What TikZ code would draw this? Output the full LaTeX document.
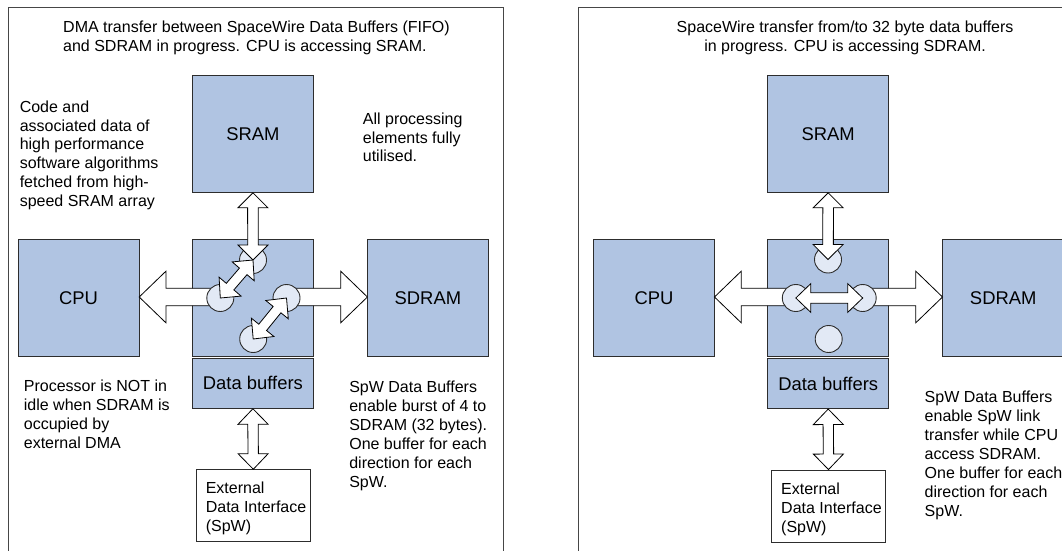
\documentclass[tikz,border=0pt]{standalone}
\usepackage{fontspec}
\setmainfont{Liberation Sans}
\usetikzlibrary{calc}

\definecolor{boxfill}{RGB}{176,196,226}
\definecolor{knobfill}{RGB}{226,233,245}
\definecolor{edgecol}{RGB}{45,45,45}
\definecolor{framecol}{RGB}{70,70,70}

\tikzset{
  unit/.style={draw=edgecol, fill=boxfill, line width=0.9pt, inner sep=0pt,
    minimum width=121pt, minimum height=116.7pt,
    font=\fontsize{18.4}{21}\selectfont},
  bufbox/.style={unit, minimum height=50pt},
  extbox/.style={draw=edgecol, fill=white, line width=0.9pt, inner sep=0pt,
    minimum width=114pt, minimum height=72pt},
  knob/.style={circle, draw=edgecol, fill=knobfill, line width=0.9pt,
    inner sep=0pt, minimum size=27pt},
  arrowbody/.style={draw=black, fill=white, line width=0.8pt, line join=miter},
  note/.style={inner sep=0pt, align=left, anchor=north west,
    font=\fontsize{16}{18.9}\selectfont},
  headline/.style={note, align=center, anchor=north},
  panelframe/.style={draw=framecol, line width=1.1pt}
}

% single-headed block arrow from #1 to the tip #2
% #3 half shaft width, #4 half head width, #5 head length
\newcommand\blockarrow[5]{%
  \coordinate (ba s) at (#1);
  \coordinate (ba e) at (#2);
  \coordinate (ba h) at ($(ba e)!#5!(ba s)$);
  \filldraw[arrowbody]
    ($(ba s)!#3!90:(ba e)$) -- ($(ba h)!#3!90:(ba e)$) --
    ($(ba h)!#4!90:(ba e)$) -- (ba e) --
    ($(ba h)!#4!-90:(ba e)$) -- ($(ba h)!#3!-90:(ba e)$) --
    ($(ba s)!#3!-90:(ba e)$) -- cycle;
}

% double-headed block arrow between the tips #1 and #2
\newcommand\blockboth[5]{%
  \coordinate (bb s) at (#1);
  \coordinate (bb e) at (#2);
  \coordinate (bb h) at ($(bb e)!#5!(bb s)$);
  \coordinate (bb k) at ($(bb s)!#5!(bb e)$);
  \filldraw[arrowbody]
    (bb s) -- ($(bb k)!#4!90:(bb e)$) -- ($(bb k)!#3!90:(bb e)$) --
    ($(bb h)!#3!90:(bb e)$) -- ($(bb h)!#4!90:(bb e)$) -- (bb e) --
    ($(bb h)!#4!-90:(bb e)$) -- ($(bb h)!#3!-90:(bb e)$) --
    ($(bb k)!#3!-90:(bb e)$) -- ($(bb k)!#4!-90:(bb e)$) -- cycle;
}

\begin{document}
\begin{tikzpicture}[x=1pt, y=-1pt]
\useasboundingbox (0,0) rectangle (1062,551);

% ---------------- left panel: DMA between data buffers and SDRAM ----------------
\draw[panelframe] (8.1,600) -- (8.1,7.3) -- (503.9,7.3) -- (503.9,600);

\node[note] (titleL) at (63,21.1)
  {DMA transfer between SpaceWire Data Buffers (FIFO)\\and SDRAM in progress. CPU is accessing SRAM.};
\node[note] (codeL) at (19.6,100.4)
  {Code and\\associated data of\\high performance\\software algorithms\\fetched from high-\\speed SRAM array};
\node[note] (busyL) at (362.7,112.4)
  {All processing\\elements fully\\utilised.};
\node[note] (cpuNoteL) at (23.7,380.1)
  {Processor is NOT in\\idle when SDRAM is\\occupied by\\external DMA};
\node[note] (bufNoteL) at (349.1,381.1)
  {SpW Data Buffers\\enable burst of 4 to\\SDRAM (32 bytes).\\One buffer for each\\direction for each\\SpW.};

\node[unit] (sramL) at (252.9,134) {SRAM};
\node[unit] (cpuL) at (78.5,297.7) {CPU};
\node[unit] (hubL) at (252.9,297.7) {};
\node[unit] (sdramL) at (427.9,297.7) {SDRAM};
\node[bufbox] (bufL) at (252.9,383.3) {Data buffers};
\node[extbox] (extL) at (253.3,505.7) {};
\node[note] (extTextL) at (205.6,482.1) {External\\Data Interface\\(SpW)};

\coordinate (tipCpuL) at (139.2,297);
\coordinate (tipSdramL) at (367.4,297);
\coordinate (shaftL) at (220.3,297);
\coordinate (shaftR) at (286.5,297);
\blockarrow{shaftL}{tipCpuL}{8.7pt}{25.8pt}{26.7pt}
\blockarrow{shaftR}{tipSdramL}{8.7pt}{25.8pt}{26.7pt}

\node[knob] (topL) at (253,260) {};
\node[knob] (leftL) at (220.3,298) {};
\node[knob] (rightL) at (286.5,298) {};
\node[knob] (botL) at (253.2,339) {};

\blockboth{sramL.south}{topL}{5.3pt}{15pt}{15pt}
\blockboth{leftL}{topL}{5pt}{14.5pt}{15pt}
\blockboth{botL}{rightL}{5pt}{14.5pt}{15pt}
\blockboth{bufL.south}{extL.north}{5.2pt}{15pt}{15.5pt}

% ---------------- right panel: SpaceWire transfer with CPU on SDRAM ----------------
\draw[panelframe] (578.4,600) -- (578.4,7.3) -- (1100,7.3);

\node[headline] (titleR) at (845.1,21.1)
  {SpaceWire transfer from/to 32 byte data buffers\\in progress. CPU is accessing SDRAM.};
\node[note] (bufNoteR) at (924.5,391.1)
  {SpW Data Buffers\\enable SpW link\\transfer while CPU\\access SDRAM.\\One buffer for each\\direction for each\\SpW.};

\node[unit] (sramR) at (828.2,134) {SRAM};
\node[unit] (cpuR) at (654.1,297.7) {CPU};
\node[unit] (hubR) at (828.2,297.7) {};
\node[unit] (sdramR) at (1003.2,297.7) {SDRAM};
\node[bufbox] (bufR) at (828.2,383.6) {Data buffers};
\node[extbox] (extR) at (828.5,506) {};
\node[note] (extTextR) at (781,482.4) {External\\Data Interface\\(SpW)};

\coordinate (tipCpuR) at (714.5,297);
\coordinate (tipSdramR) at (942.5,297);
\coordinate (shaftRL) at (795.8,297);
\coordinate (shaftRR) at (862.7,297);
\blockarrow{shaftRL}{tipCpuR}{8.7pt}{25.8pt}{26.7pt}
\blockarrow{shaftRR}{tipSdramR}{8.7pt}{25.8pt}{26.7pt}

\node[knob] (topR) at (828,259.5) {};
\node[knob] (leftR) at (795.8,298) {};
\node[knob] (rightR) at (862.7,298) {};
\node[knob] (botR) at (828.7,339) {};

\blockboth{sramR.south}{topR}{5.3pt}{15pt}{15pt}
\blockboth{leftR}{rightR}{5.3pt}{14.4pt}{15pt}
\blockboth{bufR.south}{extR.north}{5.2pt}{15pt}{15.5pt}
\end{tikzpicture}
\end{document}
